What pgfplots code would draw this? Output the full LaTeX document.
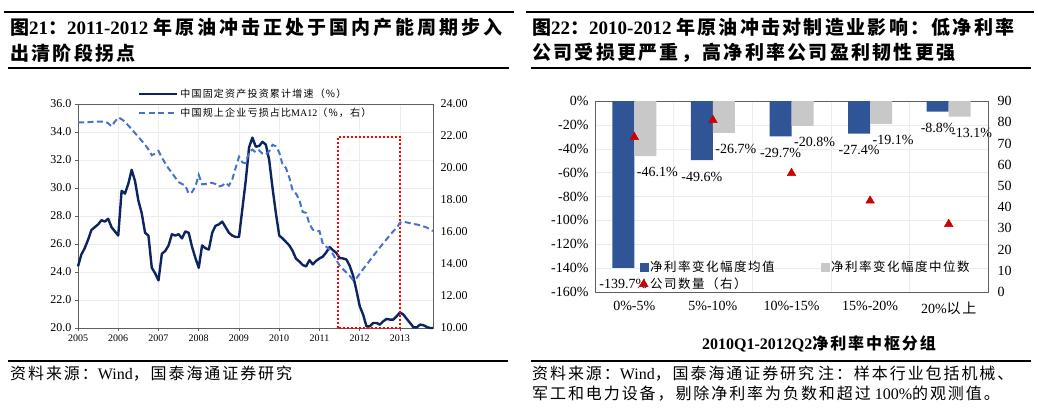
\documentclass[border=0pt]{standalone}
\usepackage{pgfplots}
\usepackage{pgfplotstable}
\pgfplotsset{compat=1.18}
\usepackage{fontspec}
\setmainfont{Liberation Serif}
\newfontfamily\cjk[LetterSpace=12]{Noto Sans CJK SC}
\newcommand\C[1]{{\cjk #1}}
\definecolor{navy}{RGB}{13,36,99}
\definecolor{dblue}{RGB}{72,114,200}
\definecolor{barblue}{RGB}{47,85,151}
\definecolor{bargray}{RGB}{200,200,200}
\definecolor{tri}{RGB}{204,0,0}
\definecolor{gridc}{RGB}{236,236,236}
\definecolor{framec}{RGB}{95,95,95}
\pgfplotstableread{
m fai loss
0 24.4 22.85
1 25.25 22.85
2 25.7 22.85
3 26.3 22.86
4 27.0 22.88
5 27.2 22.9
6 27.4 22.9
7 27.7 22.9
8 27.6 22.9
9 27.8 22.8
10 27.2 22.6
11 26.9 22.9
12 26.6 23.16
13 29.8 23.05
14 29.6 22.9
15 30.3 22.65
16 31.3 22.43
17 30.5 22.18
18 29.1 21.95
19 28.2 21.7
20 26.8 21.45
21 26.6 21.16
22 24.3 20.8
23 23.9 20.9
24 23.4 21.07
25 25.3 20.65
26 25.5 20.3
27 25.9 19.97
28 26.7 19.7
29 26.6 19.4
30 26.7 19.12
31 26.4 19.0
32 26.9 18.9
33 26.8 18.4
34 25.8 18.5
35 25.0 18.85
36 24.3 19.57
37 25.9 18.98
38 25.7 19.0
39 25.6 19.05
40 26.8 19.07
41 27.3 19.0
42 27.4 18.85
43 27.6 18.9
44 27.2 19.07
45 26.8 18.9
46 26.6 19.3
47 26.5 20.0
48 26.5 20.7
49 28.5 20.35
50 30.5 20.3
51 32.9 21.0
52 33.6 21.15
53 32.95 20.97
54 33.0 21.1
55 33.3 20.9
56 33.1 20.83
57 32.0 21.05
58 30.0 21.45
59 28.2 21.35
60 26.6 20.97
61 26.4 20.2
62 26.15 20.0
63 25.9 19.4
64 25.5 18.6
65 24.95 18.4
66 24.75 18.0
67 24.5 17.25
68 24.4 17.2
69 24.85 16.5
70 24.55 16.15
71 24.8 16.06
72 24.97 16.06
73 25.1 15.25
74 25.4 15.08
75 25.78 14.92
76 25.56 14.62
77 25.37 14.25
78 25.0 13.9
79 24.97 13.68
80 24.9 13.47
81 24.45 13.26
82 23.75 13.0
83 22.7 13.1
84 21.55 13.4
85 20.96 13.68
86 20.12 13.95
87 20.12 14.22
88 20.36 14.5
89 20.36 14.76
90 20.24 15.03
91 20.48 15.3
92 20.65 15.55
93 20.6 15.8
94 20.6 16.05
95 20.84 16.25
96 21.12 16.58
97 20.96 16.65
98 20.65 16.6
99 20.36 16.55
100 20.05 16.5
101 20.05 16.47
102 20.24 16.42
103 20.2 16.35
104 20.07 16.28
105 20.0 16.15
105.8 20.0 16.06
}\datatable
\begin{document}
\begin{tikzpicture}[x=1pt,y=1pt]
\path[use as bounding box] (0pt,0pt) rectangle (1038pt,-409pt);
% rules
\draw[line width=2pt] (4pt,-12pt) -- (514pt,-12pt);
\draw[line width=1.5pt] (8pt,-68pt) -- (509pt,-68pt);
\draw[line width=2pt] (526pt,-12pt) -- (1034pt,-12pt);
\draw[line width=1.5pt] (531pt,-68pt) -- (1031pt,-68pt);
\draw[line width=1.2pt] (8pt,-361pt) -- (508pt,-361pt);
\draw[line width=1.2pt] (531pt,-361pt) -- (1031pt,-361pt);
% titles
\node[anchor=west,inner sep=0] at (10pt,-27pt) {\fontsize{19}{22}\selectfont\bfseries\C{图}21\C{：}2011-2012 {\cjk\addfontfeature{LetterSpace=16}年原油冲击正处于国内产能周期步入}};
\node[anchor=west,inner sep=0] at (10pt,-53pt) {\fontsize{19}{22}\selectfont\bfseries\C{出清阶段拐点}};
\node[anchor=west,inner sep=0] at (532pt,-27pt) {\fontsize{19}{22}\selectfont\bfseries\C{图}22\C{：}2010-2012 \C{年原油冲击对制造业影响：低净利率}};
\node[anchor=west,inner sep=0] at (532pt,-53pt) {\fontsize{19}{22}\selectfont\bfseries\C{公司受损更严重，高净利率公司盈利韧性更强}};
% sources
\node[anchor=west,inner sep=0] at (10pt,-374pt) {\fontsize{16}{19}\selectfont\C{资料来源：}Wind\C{，国泰海通证券研究}};
\node[anchor=west,inner sep=0] at (532pt,-374pt) {\fontsize{16}{19}\selectfont\C{资料来源：}Wind\C{，国泰海通证券研究} \C{注：样本行业包括机械、}};
\node[anchor=west,inner sep=0] at (532pt,-394pt) {\fontsize{16}{19}\selectfont\C{军工和电力设备，剔除净利率为负数和超过} 100\%\C{的观测值。}};
% ===== left chart =====
\begin{axis}[at={(78pt,-328pt)}, anchor=south west, width=355pt, height=224pt, scale only axis,
  xmin=2005, xmax=2013.82, ymin=20, ymax=36, clip=false,
  xtick={2005,...,2013}, xticklabels={2005,2006,2007,2008,2009,2010,2011,2012,2013},
  ytick={20,22,...,36}, yticklabels={20.0,22.0,24.0,26.0,28.0,30.0,32.0,34.0,36.0},
  tick pos=left, tick align=outside, major tick length=3pt,
  tick style={framec, line width=0.8pt},
  axis line style={framec, line width=1pt},
  grid=major, grid style={gridc, line width=0.5pt},
  xticklabel style={font=\fontsize{10}{12}\selectfont},
  yticklabel style={font=\fontsize{12}{14}\selectfont},
]
\addplot[navy, line width=2.4pt, line join=round] table[x expr=2005+\thisrow{m}/12, y=fai] \datatable;
\draw[red, line width=2pt, dash pattern=on 2pt off 2pt] (axis cs:2011.45,20) rectangle (axis cs:2013.0,33.65);
\end{axis}
\begin{axis}[at={(78pt,-328pt)}, anchor=south west, width=355pt, height=224pt, scale only axis,
  xmin=2005, xmax=2013.82, ymin=10, ymax=24,
  axis x line=none, axis y line*=right, 
  ytick={10,12,...,24}, yticklabels={10.00,12.00,14.00,16.00,18.00,20.00,22.00,24.00},
  major tick length=0pt, axis line style={framec, line width=1pt},
  yticklabel style={font=\fontsize{12}{14}\selectfont, xshift=4pt},
  legend image code/.code={\draw[#1] (0pt,0pt) -- (38pt,0pt);},
  legend style={at={(axis description cs:0.16,1.087)}, anchor=north west, draw=none, fill=none,
    font=\fontsize{10}{12}\selectfont, row sep=5pt, cells={anchor=west}},
]
\addlegendimage{navy, line width=2.4pt}
\addlegendentry{\C{中国固定资产投资累计增速（\%）}}
\addplot[dblue, line width=2pt, dash pattern=on 6pt off 3.5pt] table[x expr=2005+\thisrow{m}/12, y=loss] \datatable;
\addlegendentry{\C{中国规上企业亏损占比}MA12\C{（\%，右）}}
\end{axis}
% ===== right chart =====
\begin{axis}[at={(595pt,-292pt)}, anchor=south west, width=393pt, height=191pt, scale only axis,
  xmin=-0.5, xmax=4.5, ymin=-160, ymax=0, clip=false,
  ybar=0pt, bar width=22pt,
  xtick={0,1,2,3,4}, xticklabels={0\%-5\%,5\%-10\%,10\%-15\%,15\%-20\%,20\%\C{以上}},
  ytick={-160,-140,...,0}, yticklabels={-160\%,-140\%,-120\%,-100\%,-80\%,-60\%,-40\%,-20\%,0\%},
  minor xtick={0.5,1.5,2.5,3.5},
  ymajorgrids, xminorgrids, grid style={gridc, line width=0.5pt},
  major tick length=0pt, minor tick length=0pt,
  axis line style={framec, line width=1pt},
  xticklabel style={font=\fontsize{14}{16}\selectfont, yshift=-6pt},
  yticklabel style={font=\fontsize{14}{16}\selectfont, xshift=-3pt},
  nodes near coords, point meta=explicit symbolic,
  every node near coord/.append style={font=\fontsize{14}{16}\selectfont, anchor=north, yshift=-8pt},
]
\addplot[fill=barblue, draw=none] coordinates {(0,-139.7)[-139.7\%] (1,-49.6)[-49.6\%] (2,-29.7)[-29.7\%] (3,-27.4)[-27.4\%] (4,-8.8)[-8.8\%]};
\addplot[fill=bargray, draw=none, every node near coord/.append style={xshift=12pt}] coordinates {(0,-46.1)[-46.1\%] (1,-26.7)[-26.7\%] (2,-20.8)[-20.8\%] (3,-19.1)[-19.1\%] (4,-13.1)[-13.1\%]};
\end{axis}
\begin{axis}[at={(595pt,-292pt)}, anchor=south west, width=393pt, height=191pt, scale only axis,
  xmin=-0.5, xmax=4.5, ymin=0, ymax=90,
  axis x line=none, axis y line*=right,
  ytick={0,10,...,90}, yticklabels={0,10,20,30,40,50,60,70,80,90},
  major tick length=0pt, axis line style={framec, line width=1pt},
  yticklabel style={font=\fontsize{14}{16}\selectfont, xshift=6pt},
  legend columns=2,
  legend style={at={(axis description cs:0.105,0.185)}, anchor=north west, draw=none, fill=none,
    font=\fontsize{12.5}{14}\selectfont, row sep=1pt, cells={anchor=west},
    /tikz/every even column/.append style={column sep=44pt}},
]
\addlegendimage{legend image code/.code={\fill[barblue] (0pt,-4pt) rectangle (8pt,4pt);}}
\addlegendentry{\C{净利率变化幅度均值}}
\addlegendimage{legend image code/.code={\fill[bargray] (0pt,-4pt) rectangle (8pt,4pt);}}
\addlegendentry{\C{净利率变化幅度中位数}}
\addplot[only marks, mark=triangle*, mark size=5pt, color=tri,
  legend image code/.code={\draw[tri, mark=triangle*, mark size=5pt, only marks] plot coordinates {(4pt,0pt)};}] coordinates {(0,73) (1,81) (2,56) (3,43) (4,32)};
\addlegendentry{\C{公司数量（右）}}
\end{axis}
\node at (819pt,-344pt) {\fontsize{16}{19}\selectfont\bfseries 2010Q1-2012Q2\C{净利率中枢分组}};
\end{tikzpicture}
\end{document}
